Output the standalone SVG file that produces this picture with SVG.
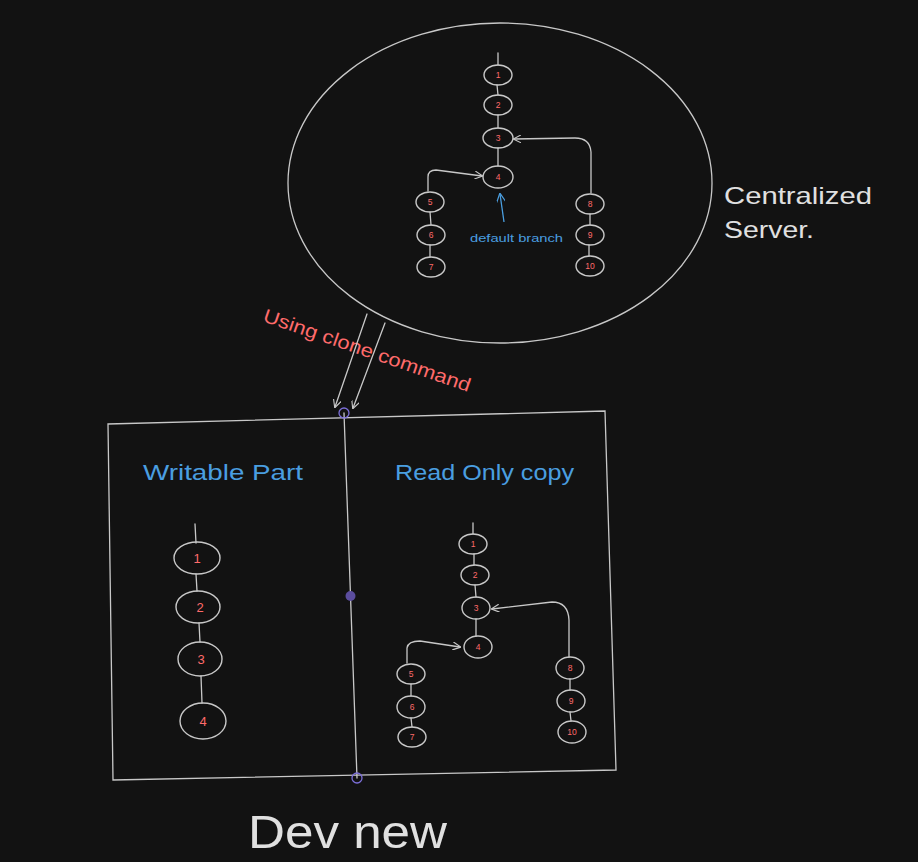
<svg xmlns="http://www.w3.org/2000/svg" width="918" height="862" viewBox="0 0 918 862">
<defs>
<marker id="ah" viewBox="0 0 10 10" refX="9" refY="5" markerWidth="8" markerHeight="8" orient="auto-start-reverse" markerUnits="userSpaceOnUse">
<path d="M0,0 L10,5 L0,10" fill="none" stroke="#c8c8c8" stroke-width="1.4"/>
</marker>
<marker id="ahb" viewBox="0 0 10 10" refX="9" refY="5" markerWidth="9" markerHeight="9" orient="auto" markerUnits="userSpaceOnUse">
<path d="M0,0 L10,5 L0,10" fill="none" stroke="#4a9ee0" stroke-width="1.4"/>
</marker>
</defs>
<style>
.bg{fill:#121212}
.ln{fill:none;stroke:#c8c8c8;stroke-width:1.3;stroke-linecap:round}
.nd ellipse{fill:none;stroke:#c8c8c8;stroke-width:1.4}
.num{fill:#ff6b6b;font-family:"Liberation Sans",sans-serif;text-anchor:middle;dominant-baseline:central}
.s .num{font-size:8.5px}
.b .num{font-size:13px}
.blue{fill:#4a9ee0;font-family:"Liberation Sans",sans-serif}
.wt{fill:#e0e0e0;font-family:"Liberation Sans",sans-serif}
.pc{fill:none;stroke:#7c6fd8;stroke-width:1.3}
</style>
<rect class="bg" width="918" height="862"/>

<g id="server">
<ellipse cx="500" cy="183" rx="212" ry="160" fill="none" stroke="#c8c8c8" stroke-width="1.3"/>
</g>
<text class="wt" x="724" y="204" font-size="24" textLength="148" lengthAdjust="spacingAndGlyphs">Centralized</text>
<text class="wt" x="724" y="238" font-size="24" textLength="90" lengthAdjust="spacingAndGlyphs">Server.</text>

<g id="top-graph" class="s">
<g id="t1" class="nd"><ellipse cx="498" cy="75" rx="14" ry="10"/><text class="num" x="498" y="75">1</text></g>
<g id="t2" class="nd"><ellipse cx="498" cy="105" rx="14" ry="10"/><text class="num" x="498" y="105">2</text></g>
<g id="t3" class="nd"><ellipse cx="498" cy="138" rx="15" ry="10"/><text class="num" x="498" y="138">3</text></g>
<g id="t4" class="nd"><ellipse cx="498" cy="177" rx="15" ry="11"/><text class="num" x="498" y="177">4</text></g>
<g id="t5" class="nd"><ellipse cx="430" cy="202" rx="14" ry="10"/><text class="num" x="430" y="202">5</text></g>
<g id="t6" class="nd"><ellipse cx="431" cy="235" rx="14" ry="10"/><text class="num" x="431" y="235">6</text></g>
<g id="t7" class="nd"><ellipse cx="431" cy="267" rx="14" ry="10"/><text class="num" x="431" y="267">7</text></g>
<g id="t8" class="nd"><ellipse cx="590" cy="204" rx="14" ry="10"/><text class="num" x="590" y="204">8</text></g>
<g id="t9" class="nd"><ellipse cx="590" cy="235" rx="14" ry="10"/><text class="num" x="590" y="235">9</text></g>
<g id="t10" class="nd"><ellipse cx="590" cy="266" rx="14" ry="10"/><text class="num" x="590" y="266">10</text></g>
</g>
<text class="blue" x="470" y="242" font-size="11.5" textLength="93" lengthAdjust="spacingAndGlyphs">default branch</text>

<g id="top-connectors">
<path class="ln" d="M498,53 L498,65"/>
<path class="ln" d="M497,85 L498,95"/>
<path class="ln" d="M498,115 L498,128"/>
<path class="ln" d="M498,148 L498,166"/>
<path class="ln" d="M430,212 L431,225"/>
<path class="ln" d="M430,245 L430,257"/>
<path class="ln" d="M590,214 L590,225"/>
<path class="ln" d="M589,245 L589,256"/>
<path class="ln" d="M591,193 L591,152 Q590,138 575,138 L514,139" marker-end="url(#ah)"/>
<path class="ln" d="M428,191 L428,177 Q428,170 436,170 L482,176" marker-end="url(#ah)"/>
<path d="M504,222 L500,194" fill="none" stroke="#4a9ee0" stroke-width="1.3" marker-end="url(#ahb)"/>
</g>

<text fill="#ff6b6b" font-family="Liberation Sans,sans-serif" font-size="19" transform="translate(262,321) rotate(19)" textLength="218" lengthAdjust="spacingAndGlyphs">Using clone command</text>

<g id="clone-arrows">
<path class="ln" d="M367,314 L335,407" marker-end="url(#ah)"/>
<path class="ln" d="M385,323 L353,408" marker-end="url(#ah)"/>
</g>

<g id="dev-box">
<path class="ln" d="M108,424 L605,411 L616,770 L113,780 Z"/>
<path class="ln" d="M344,413 L357,778"/>
<circle class="pc" cx="344" cy="413" r="5"/>
<circle cx="350.5" cy="596" r="5" fill="#5b4d9e"/>
<circle class="pc" cx="357" cy="778" r="5"/>
</g>

<text class="blue" x="143" y="480" font-size="22" textLength="160" lengthAdjust="spacingAndGlyphs">Writable Part</text>
<text class="blue" x="395" y="480" font-size="22" textLength="179" lengthAdjust="spacingAndGlyphs">Read Only copy</text>

<g id="left-graph" class="b">
<g id="l1" class="nd"><ellipse cx="197" cy="558" rx="23" ry="16"/><text class="num" x="197" y="558">1</text></g>
<g id="l2" class="nd"><ellipse cx="198" cy="607" rx="22" ry="16"/><text class="num" x="200" y="607">2</text></g>
<g id="l3" class="nd"><ellipse cx="200" cy="659" rx="22" ry="17"/><text class="num" x="201" y="659">3</text></g>
<g id="l4" class="nd"><ellipse cx="203" cy="721" rx="23" ry="18"/><text class="num" x="203" y="721">4</text></g>
</g>
<g id="left-connectors">
<path class="ln" d="M195,524 L196,543"/>
<path class="ln" d="M196,574 L197,591"/>
<path class="ln" d="M199,623 L200,642"/>
<path class="ln" d="M201,676 L202,703"/>
</g>

<g id="right-graph" class="s">
<g id="r1" class="nd"><ellipse cx="473" cy="544" rx="14" ry="10"/><text class="num" x="473" y="544">1</text></g>
<g id="r2" class="nd"><ellipse cx="475" cy="575" rx="14" ry="10"/><text class="num" x="475" y="575">2</text></g>
<g id="r3" class="nd"><ellipse cx="476" cy="608" rx="14" ry="11"/><text class="num" x="476" y="608">3</text></g>
<g id="r4" class="nd"><ellipse cx="478" cy="647" rx="14" ry="11"/><text class="num" x="478" y="647">4</text></g>
<g id="r5" class="nd"><ellipse cx="411" cy="674" rx="14" ry="10"/><text class="num" x="411" y="674">5</text></g>
<g id="r6" class="nd"><ellipse cx="411" cy="707" rx="14" ry="11"/><text class="num" x="412" y="707">6</text></g>
<g id="r7" class="nd"><ellipse cx="412" cy="737" rx="14" ry="10"/><text class="num" x="412" y="737">7</text></g>
<g id="r8" class="nd"><ellipse cx="570" cy="668" rx="14" ry="11"/><text class="num" x="570" y="668">8</text></g>
<g id="r9" class="nd"><ellipse cx="571" cy="701" rx="14" ry="11"/><text class="num" x="571" y="701">9</text></g>
<g id="r10" class="nd"><ellipse cx="572" cy="732" rx="14" ry="11"/><text class="num" x="572" y="732">10</text></g>
</g>
<g id="right-connectors">
<path class="ln" d="M473,523 L473,534"/>
<path class="ln" d="M474,554 L474,565"/>
<path class="ln" d="M475,585 L476,597"/>
<path class="ln" d="M476,619 L476,636"/>
<path class="ln" d="M411,684 L411,696"/>
<path class="ln" d="M411,718 L412,727"/>
<path class="ln" d="M570,679 L570,690"/>
<path class="ln" d="M570,712 L571,721"/>
<path class="ln" d="M569,657 L569,620 Q568,602 552,602 L492,609" marker-end="url(#ah)"/>
<path class="ln" d="M407,663 L407,648 Q408,641 420,641 L460,647" marker-end="url(#ah)"/>
</g>

<text class="wt" x="248" y="848" font-size="46" textLength="199" lengthAdjust="spacingAndGlyphs">Dev new</text>
</svg>
